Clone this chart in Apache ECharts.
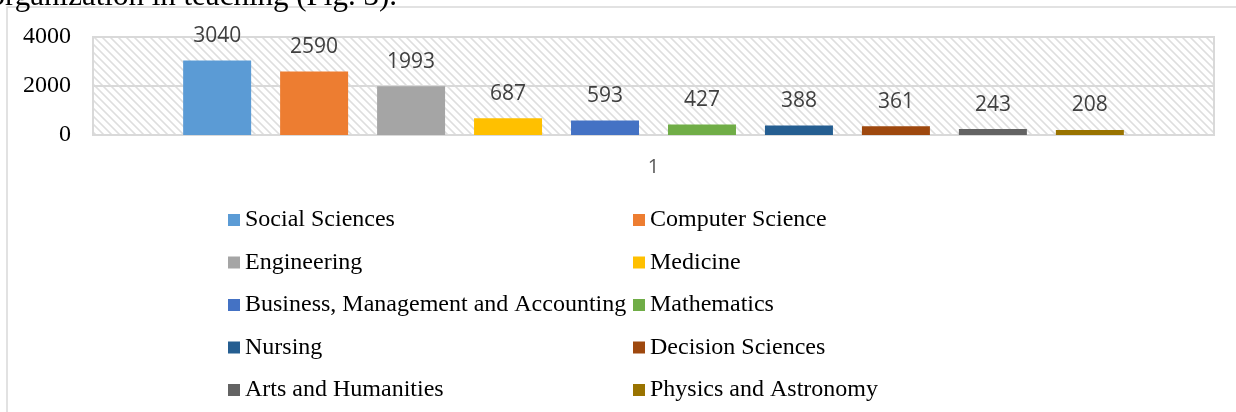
<!DOCTYPE html>
<html>
<head>
<meta charset="utf-8">
<script src="https://cdn.jsdelivr.net/npm/echarts@6/dist/echarts.min.js"></script>
<style>
html,body{margin:0;padding:0;background:#fff;}
#c{width:1236px;height:412px;}
</style>
</head>
<body>
<div id="c"></div>
<script>
const categories = ['1'];
const seriesNames = ['Social Sciences','Computer Science','Engineering','Medicine','Business, Management and Accounting','Mathematics','Nursing','Decision Sciences','Arts and Humanities','Physics and Astronomy'];
const seriesValues = [3040, 2590, 1993, 687, 593, 427, 388, 361, 243, 208];
const seriesColors = ['#5B9BD5','#ED7D31','#A5A5A5','#FFC000','#4472C4','#70AD47','#255E91','#9E480E','#636363','#997300'];
const yTicks = [0, 2000, 4000];
const headerText = 'organization in teaching (Fig. 3).';

// hatch pattern (wide downward diagonal)
const pc = document.createElement('canvas');
pc.width = 8; pc.height = 8;
const px = pc.getContext('2d');
px.fillStyle = '#ffffff';
px.fillRect(0,0,8,8);
const img = px.getImageData(0,0,8,8);
for (let y=0;y<8;y++){
  for (let x=0;x<8;x++){
    const d = ((x - y) % 8 + 8) % 8;
    if (d < 3){
      const i = (y*8+x)*4;
      const g = (d === 1) ? 222 : 234;
      img.data[i]=g; img.data[i+1]=g; img.data[i+2]=g; img.data[i+3]=255;
    }
  }
}
px.putImageData(img,0,0);

const chart = echarts.init(document.getElementById('c'), null, {renderer:'canvas'});

const leftNames = seriesNames.filter((_,i)=>i%2===0);
const rightNames = seriesNames.filter((_,i)=>i%2===1);

const legendCommon = {
  orient: 'vertical',
  top: 208,
  icon: 'rect',
  itemWidth: 12,
  itemHeight: 12,
  itemGap: 18.5,
  textStyle: {fontFamily: 'Liberation Serif', fontSize: 24, color: '#000', lineHeight: 24},
  padding: 0
};

const option = {
  animation: false,
  backgroundColor: '#fff',
  graphic: [
    {type:'rect', shape:{x: 7, y: 7, width: 1300, height: 500}, style:{fill:'none', stroke:'#d9d9d9', lineWidth: 1.5}, silent:true},
    {type:'text', x: 397, y: 12, style:{text: headerText, font: '31px "Liberation Serif"', fill:'#000', align:'right', verticalAlign:'bottom'}}
  ],
  legend: [
    Object.assign({}, legendCommon, {left: 228, data: leftNames}),
    Object.assign({}, legendCommon, {left: 633, data: rightNames})
  ],
  grid: {
    left: 93, right: 22, top: 37, bottom: 277,
    show: true,
    borderColor: '#d9d9d9', borderWidth: 2,
    backgroundColor: {image: pc, repeat: 'repeat'}
  },
  xAxis: {
    type: 'category',
    data: categories,
    axisLine: {show: true, lineStyle: {color: '#d9d9d9', width: 2}},
    axisTick: {show: false},
    axisLabel: {color: '#595959', fontFamily: 'Open Sans', fontSize: 20, margin: 22}
  },
  yAxis: {
    type: 'value',
    min: 0, max: 4000, interval: 2000,
    axisLine: {show: false},
    axisTick: {show: false},
    axisLabel: {color: '#000', fontFamily: 'Liberation Serif', fontSize: 24, margin: 22,
      formatter: v => yTicks.includes(v) ? String(v) : ''},
    splitLine: {show: true, lineStyle: {color: '#d9d9d9', width: 2}}
  },
  series: seriesNames.map((n,i)=>({
    name: n,
    type: 'bar',
    data: [seriesValues[i]],
    barWidth: 68,
    barGap: '42.6%',
    itemStyle: {color: seriesColors[i]},
    label: {show: true, position: 'top', distance: 14, color: '#404040', fontFamily: 'Open Sans', fontSize: 21}
  }))
};
chart.setOption(option);
</script>
</body>
</html>
